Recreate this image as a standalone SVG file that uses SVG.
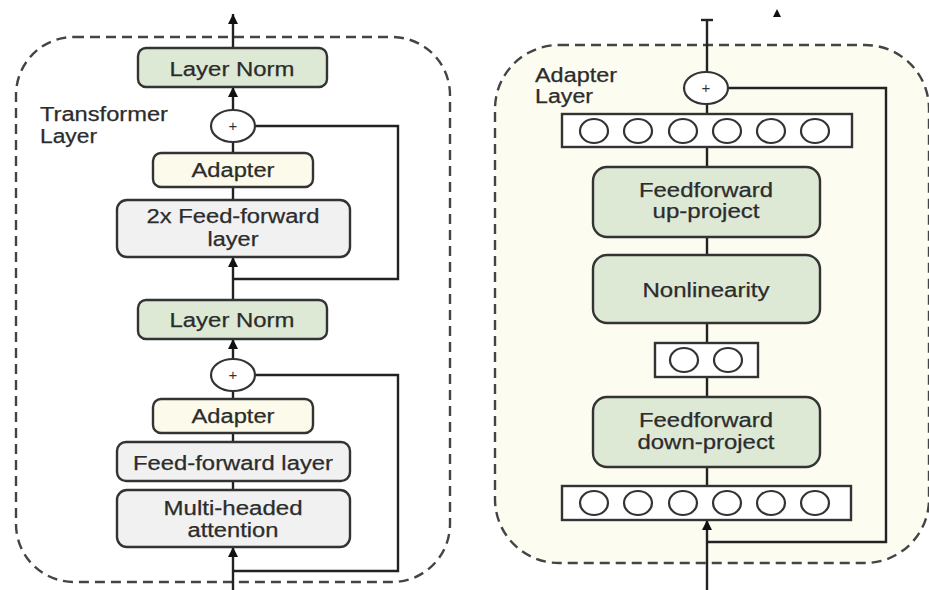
<svg xmlns="http://www.w3.org/2000/svg" width="929" height="590" viewBox="0 0 929 590">
<defs>
<marker id="ah" viewBox="0 0 10 10" refX="10" refY="5" markerWidth="10" markerHeight="10" markerUnits="userSpaceOnUse" orient="auto">
<path d="M0,0 L10,5 L0,10 z" fill="#111"/>
</marker>
<style>
.frame{fill:none;stroke:#444;stroke-width:2.4;stroke-dasharray:10,6}
.box{stroke:#333;stroke-width:2.4}
.g{fill:#dde9d5}
.y{fill:#fcfaea}
.w{fill:#f1f1f1}
.v{fill:#fff;stroke:#333;stroke-width:2.4}
.c{fill:#fff;stroke:#333;stroke-width:2.2}
.ln{fill:none;stroke:#222;stroke-width:2.4}
.t{font-family:"Liberation Sans",Arial,sans-serif;font-size:19.5px;fill:#2c2c2c;text-anchor:middle;stroke:#2c2c2c;stroke-width:0.25}
.tl{font-family:"Liberation Sans",Arial,sans-serif;font-size:19.5px;fill:#2c2c2c;stroke:#2c2c2c;stroke-width:0.25}
.p{font-family:"Liberation Sans",Arial,sans-serif;font-size:15px;fill:#333;text-anchor:middle}
</style>
</defs>

<!-- Left panel frame -->
<g id="transformer-frame">
<rect class="frame" x="16" y="37" width="434" height="545" rx="58"/>
<text class="tl" x="40" y="121" textLength="128" lengthAdjust="spacingAndGlyphs">Transformer</text>
<text class="tl" x="40" y="143" textLength="57" lengthAdjust="spacingAndGlyphs">Layer</text>
</g>

<!-- Right panel frame -->
<g id="adapter-frame">
<rect x="495" y="45" width="434" height="518" rx="64" fill="#fdfcf0" stroke="#444" stroke-width="2.4" stroke-dasharray="10,6"/>
<text class="tl" x="535" y="82" textLength="82" lengthAdjust="spacingAndGlyphs">Adapter</text>
<text class="tl" x="535" y="103" textLength="58" lengthAdjust="spacingAndGlyphs">Layer</text>
</g>

<!-- Connectors -->
<g id="connectors">
<!-- left -->
<line class="ln" x1="233" y1="48" x2="233" y2="14" marker-end="url(#ah)"/>
<line class="ln" x1="233" y1="110" x2="233" y2="87" marker-end="url(#ah)"/>
<line class="ln" x1="233" y1="142" x2="233" y2="153"/>
<line class="ln" x1="233" y1="187" x2="233" y2="200"/>
<polyline class="ln" points="255,126 398,126 398,279 233,279"/>
<line class="ln" x1="233" y1="300" x2="233" y2="257" marker-end="url(#ah)"/>
<line class="ln" x1="233" y1="359" x2="233" y2="339" marker-end="url(#ah)"/>
<line class="ln" x1="233" y1="391" x2="233" y2="399"/>
<line class="ln" x1="233" y1="433" x2="233" y2="442"/>
<line class="ln" x1="233" y1="481" x2="233" y2="490"/>
<polyline class="ln" points="255,375 398,375 398,571 233,571"/>
<line class="ln" x1="233" y1="590" x2="233" y2="547" marker-end="url(#ah)"/>
<!-- right -->
<line class="ln" x1="707" y1="72" x2="707" y2="20"/>
<line class="ln" x1="701" y1="20" x2="713" y2="20"/>
<path d="M773,17 L777,9 L781,17 z" fill="#111"/>
<line class="ln" x1="707" y1="104" x2="707" y2="114"/>
<polyline class="ln" points="728,88 886,88 886,542 707,542"/>
<line class="ln" x1="707" y1="147" x2="707" y2="167"/>
<line class="ln" x1="707" y1="237" x2="707" y2="255"/>
<line class="ln" x1="707" y1="323" x2="707" y2="343"/>
<line class="ln" x1="707" y1="377" x2="707" y2="397"/>
<line class="ln" x1="707" y1="467" x2="707" y2="486"/>
<line class="ln" x1="707" y1="590" x2="707" y2="520" marker-end="url(#ah)"/>
</g>

<!-- Left nodes -->
<g id="layernorm-top">
<rect class="box g" x="138" y="48" width="189" height="39" rx="8"/>
<text class="t" x="232" y="76" textLength="125" lengthAdjust="spacingAndGlyphs">Layer Norm</text>
</g>
<g id="plus-top">
<ellipse class="c" cx="233" cy="126" rx="22" ry="16"/>
<text class="p" x="233" y="131">+</text>
</g>
<g id="adapter-top">
<rect class="box y" x="153" y="153" width="160" height="34" rx="8"/>
<text class="t" x="233" y="177" textLength="83" lengthAdjust="spacingAndGlyphs">Adapter</text>
</g>
<g id="ff2x">
<rect class="box w" x="117" y="200" width="233" height="57" rx="10"/>
<text class="t" x="233" y="223" textLength="173" lengthAdjust="spacingAndGlyphs">2x Feed-forward</text>
<text class="t" x="233" y="246" textLength="51" lengthAdjust="spacingAndGlyphs">layer</text>
</g>
<g id="layernorm-bottom">
<rect class="box g" x="138" y="300" width="189" height="39" rx="8"/>
<text class="t" x="232" y="327" textLength="125" lengthAdjust="spacingAndGlyphs">Layer Norm</text>
</g>
<g id="plus-bottom">
<ellipse class="c" cx="233" cy="375" rx="22" ry="16"/>
<text class="p" x="233" y="380">+</text>
</g>
<g id="adapter-bottom">
<rect class="box y" x="153" y="399" width="160" height="34" rx="8"/>
<text class="t" x="233" y="423" textLength="83" lengthAdjust="spacingAndGlyphs">Adapter</text>
</g>
<g id="ff-layer">
<rect class="box w" x="117" y="442" width="233" height="39" rx="9"/>
<text class="t" x="233" y="470" textLength="200" lengthAdjust="spacingAndGlyphs">Feed-forward layer</text>
</g>
<g id="mha">
<rect class="box w" x="117" y="490" width="233" height="57" rx="10"/>
<text class="t" x="233" y="515" textLength="139" lengthAdjust="spacingAndGlyphs">Multi-headed</text>
<text class="t" x="233" y="537" textLength="91" lengthAdjust="spacingAndGlyphs">attention</text>
</g>

<!-- Right nodes -->
<g id="adapter-plus">
<ellipse class="c" cx="706" cy="88" rx="22" ry="16"/>
<text class="p" x="706" y="93">+</text>
</g>
<g id="vector-top">
<rect class="v" x="562" y="114" width="290" height="33"/>
<ellipse class="c" cx="594" cy="131" rx="14" ry="12"/>
<ellipse class="c" cx="638" cy="131" rx="14" ry="12"/>
<ellipse class="c" cx="683" cy="131" rx="14" ry="12"/>
<ellipse class="c" cx="727" cy="131" rx="14" ry="12"/>
<ellipse class="c" cx="771" cy="131" rx="14" ry="12"/>
<ellipse class="c" cx="815" cy="131" rx="14" ry="12"/>
</g>
<g id="ff-up">
<rect class="box g" x="593" y="167" width="227" height="70" rx="14"/>
<text class="t" x="706" y="197" textLength="134" lengthAdjust="spacingAndGlyphs">Feedforward</text>
<text class="t" x="706" y="218" textLength="107" lengthAdjust="spacingAndGlyphs">up-project</text>
</g>
<g id="nonlinearity">
<rect class="box g" x="593" y="255" width="227" height="68" rx="14"/>
<text class="t" x="706" y="297" textLength="127" lengthAdjust="spacingAndGlyphs">Nonlinearity</text>
</g>
<g id="vector-mid">
<rect class="v" x="655" y="343" width="103" height="34"/>
<ellipse class="c" cx="684" cy="360" rx="14" ry="12"/>
<ellipse class="c" cx="728" cy="360" rx="14" ry="12"/>
</g>
<g id="ff-down">
<rect class="box g" x="593" y="397" width="227" height="70" rx="14"/>
<text class="t" x="706" y="427" textLength="134" lengthAdjust="spacingAndGlyphs">Feedforward</text>
<text class="t" x="706" y="449" textLength="137" lengthAdjust="spacingAndGlyphs">down-project</text>
</g>
<g id="vector-bottom">
<rect class="v" x="562" y="486" width="289" height="34"/>
<ellipse class="c" cx="594" cy="503" rx="14" ry="12"/>
<ellipse class="c" cx="638" cy="503" rx="14" ry="12"/>
<ellipse class="c" cx="683" cy="503" rx="14" ry="12"/>
<ellipse class="c" cx="727" cy="503" rx="14" ry="12"/>
<ellipse class="c" cx="771" cy="503" rx="14" ry="12"/>
<ellipse class="c" cx="815" cy="503" rx="14" ry="12"/>
</g>
</svg>
